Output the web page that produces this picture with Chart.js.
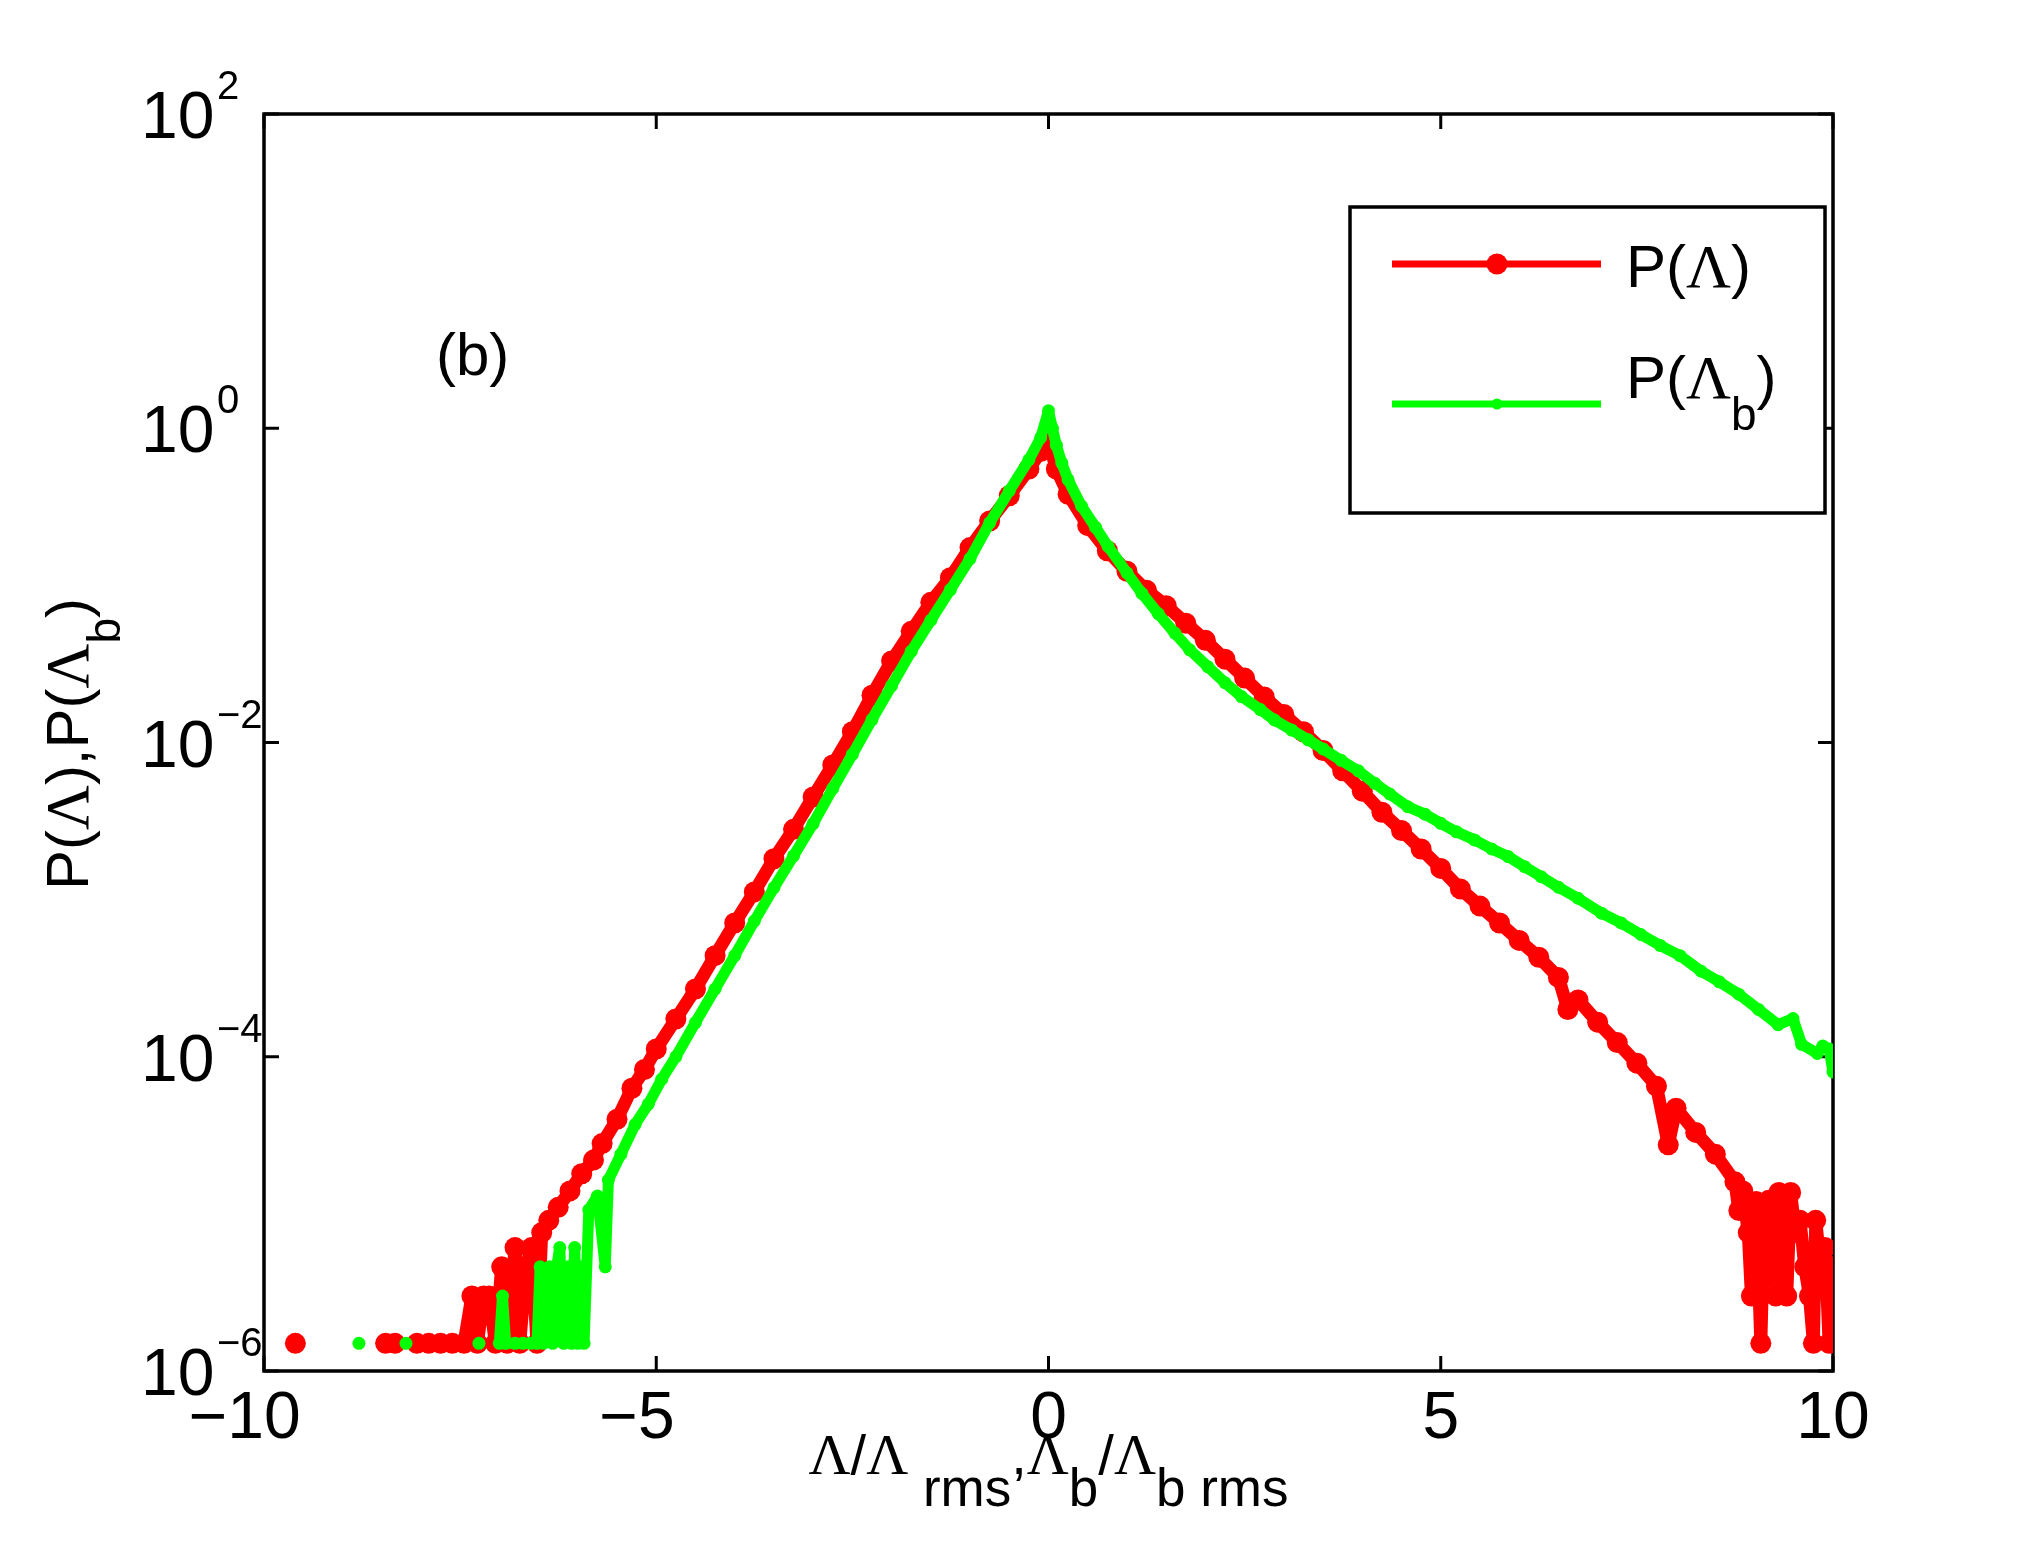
<!DOCTYPE html>
<html>
<head>
<meta charset="utf-8">
<script src="https://cdn.jsdelivr.net/npm/chart.js@4.4.1/dist/chart.umd.min.js"></script>
<style>
  html, body { margin: 0; padding: 0; background: #fff; }
</style>
</head>
<body>
<canvas id="pdfChart" width="2025" height="1542"></canvas>
<script>
// P(Lambda) - red series
const redX = [
  -9.6, -9.0, -8.45, -8.33, -8.2, -8.05, -7.9, -7.75, -7.6, -7.45,
  -7.35, -7.28, -7.2, -7.13, -7.05, -6.97, -6.9, -6.8, -6.74, -6.66,
  -6.59, -6.52, -6.46, -6.37, -6.25, -6.1, -5.95, -5.8, -5.69, -5.5,
  -5.31, -5.15, -5.0, -4.75, -4.5, -4.25, -4.0, -3.75, -3.5, -3.25,
  -3.0, -2.75, -2.5, -2.25, -2.0, -1.75, -1.5, -1.25, -1.0, -0.75,
  -0.5, -0.25, -0.1, 0.0, 0.1, 0.25, 0.5, 0.75, 1.0, 1.25,
  1.5, 1.75, 2.0, 2.25, 2.5, 2.75, 3.0, 3.25, 3.5, 3.75,
  4.0, 4.25, 4.5, 4.75, 5.0, 5.25, 5.5, 5.75, 6.0, 6.25,
  6.5, 6.62, 6.75, 7.0, 7.25, 7.5, 7.75, 7.9, 8.0, 8.25,
  8.5, 8.75, 8.8, 8.85, 8.92, 8.96, 9.02, 9.08, 9.12, 9.18,
  9.24, 9.27, 9.31, 9.36, 9.41, 9.46, 9.52, 9.58, 9.64, 9.7,
  9.75, 9.78, 9.84, 9.9, 9.95, 10.0
];
const redY = [
  1.5e-6, null, 1.5e-6, 1.5e-6, null, 1.5e-6, 1.5e-6, 1.5e-6, 1.5e-6, 1.5e-6,
  3.0e-6, 1.5e-6, 3.0e-6, 3.0e-6, 1.5e-6, 4.6e-6, 1.5e-6, 6.1e-6, 1.5e-6, 4.6e-6,
  6.1e-6, 1.5e-6, 7.6e-6, 9.1e-6, 1.1e-5, 1.4e-5, 1.8e-5, 2.2e-5, 2.8e-5, 4.0e-5,
  6.3e-5, 8.3e-5, 1.12e-4, 1.74e-4, 2.7e-4, 4.4e-4, 7.1e-4, 1.12e-3, 1.82e-3, 2.8e-3,
  4.5e-3, 7.2e-3, 1.17e-2, 2.0e-2, 3.3e-2, 5.1e-2, 7.8e-2, 0.112, 0.174, 0.257,
  0.372, 0.55, 0.71, 0.83, 0.55, 0.38, 0.24, 0.166, 0.123, 0.093,
  0.0743, 0.0575, 0.0447, 0.0339, 0.0257, 0.0195, 0.0151, 0.0117, 8.9e-3, 6.6e-3,
  4.9e-3, 3.6e-3, 2.75e-3, 2.1e-3, 1.58e-3, 1.17e-3, 9.1e-4, 7.1e-4, 5.5e-4, 4.3e-4,
  3.2e-4, 2.0e-4, 2.3e-4, 1.66e-4, 1.23e-4, 9.1e-5, 6.5e-5, 2.75e-5, 4.7e-5, 3.3e-5,
  2.4e-5, 1.6e-5, 1.05e-5, 1.4e-5, 7.6e-6, 3.0e-6, 1.2e-5, 1.5e-6, 9.1e-6, 1.22e-5,
  6.1e-6, 3.0e-6, 1.37e-5, 6.1e-6, 3.0e-6, 1.37e-5, 7.6e-6, 9.1e-6, 4.6e-6, 3.0e-6,
  1.5e-6, 9.1e-6, 4.6e-6, 6.1e-6, 1.5e-6, 4.6e-6
];

// P(Lambda_b) - green series
const greenX = [
  -8.79, -8.5, -8.19, -7.8, -7.26, -7.1, -7.0, -6.96, -6.92, -6.8,
  -6.7, -6.6, -6.52, -6.48, -6.44, -6.36, -6.32, -6.27, -6.23, -6.18,
  -6.12, -6.08, -6.04, -6.0, -5.95, -5.92, -5.86, -5.75, -5.65, -5.61,
  -5.45, -5.27, -5.1, -4.93, -4.75, -4.5, -4.25, -4.0, -3.75, -3.5,
  -3.25, -3.0, -2.75, -2.5, -2.25, -2.0, -1.75, -1.5, -1.25, -1.0,
  -0.75, -0.5, -0.25, -0.1, 0.0, 0.05, 0.1, 0.17, 0.25, 0.42,
  0.6, 0.76, 1.0, 1.19, 1.4, 1.61, 1.8, 2.03, 2.25, 2.46,
  2.7, 2.88, 3.1, 3.31, 3.5, 3.73, 3.95, 4.16, 4.35, 4.58,
  4.8, 5.0, 5.2, 5.43, 5.65, 5.86, 6.07, 6.28, 6.5, 6.75,
  7.05, 7.3, 7.55, 7.8, 8.05, 8.32, 8.55, 8.8, 9.05, 9.3,
  9.49, 9.6, 9.8, 9.87, 9.95, 10.0
];
const greenY = [
  1.5e-6, null, 1.5e-6, null, 1.5e-6, null, 1.5e-6, 3.0e-6, 1.5e-6, 1.5e-6,
  1.5e-6, 1.5e-6, 1.5e-6, 4.6e-6, 1.5e-6, 4.6e-6, 1.5e-6, 4.6e-6, 6.1e-6, 1.5e-6,
  4.6e-6, 1.5e-6, 6.1e-6, 1.5e-6, 4.6e-6, 1.5e-6, 1.06e-5, 1.3e-5, 4.6e-6, 1.64e-5,
  2.4e-5, 3.7e-5, 5.0e-5, 7.2e-5, 1.0e-4, 1.65e-4, 2.7e-4, 4.4e-4, 7.3e-4, 1.19e-3,
  1.9e-3, 3.05e-3, 5.1e-3, 8.4e-3, 1.4e-2, 2.3e-2, 3.8e-2, 6.0e-2, 0.094, 0.148,
  0.25, 0.40, 0.63, 0.87, 1.29, 1.0, 0.78, 0.60, 0.47, 0.32,
  0.234, 0.177, 0.120, 0.089, 0.066, 0.0497, 0.0389, 0.0304, 0.024, 0.0196,
  0.0162, 0.0139, 0.0120, 0.0104, 9.1e-3, 7.7e-3, 6.6e-3, 5.5e-3, 4.7e-3, 3.9e-3,
  3.5e-3, 3.06e-3, 2.7e-3, 2.4e-3, 2.1e-3, 1.88e-3, 1.62e-3, 1.4e-3, 1.2e-3, 1.02e-3,
  8.2e-4, 7.1e-4, 6.0e-4, 5.1e-4, 4.4e-4, 3.5e-4, 3.0e-4, 2.5e-4, 2.0e-4, 1.6e-4,
  1.75e-4, 1.2e-4, 1.05e-4, 1.17e-4, 1.12e-4, 8.0e-5
];

// axis ticks
const xTicks = [-10, -5, 0, 5, 10];
const yTicks = [1e-6, 1e-4, 1e-2, 1, 100];
const yTickExp = ['\u22126', '\u22124', '\u22122', '0', '2'];

const SANS = '"Liberation Sans", Arial, sans-serif';
const SERIF = '"Liberation Serif", "Times New Roman", serif';

function pts(xs, ys) {
  return xs.map((x, i) => ({ x: x, y: ys[i] }));
}

// draw a run of text pieces: [text, font, dy]
function drawRich(c, x, y, parts, align) {
  let total = 0;
  parts.forEach(p => { c.font = p[1]; total += c.measureText(p[0]).width; });
  let cx = align === 'center' ? x - total / 2 : x;
  parts.forEach(p => {
    c.font = p[1];
    c.fillText(p[0], cx, y + (p[2] || 0));
    cx += c.measureText(p[0]).width;
  });
}

const frame = {
  id: 'frame',
  beforeDatasetsDraw(chart) {
    const c = chart.ctx, a = chart.chartArea;
    const xs = chart.scales.x, ys = chart.scales.y;
    c.save();
    c.strokeStyle = '#000';
    c.lineWidth = 3.5;
    c.strokeRect(a.left, a.top, a.right - a.left, a.bottom - a.top);
    c.lineWidth = 3;
    c.beginPath();
    xTicks.forEach(v => {
      const px = xs.getPixelForValue(v);
      c.moveTo(px, a.bottom); c.lineTo(px, a.bottom - 15);
      c.moveTo(px, a.top); c.lineTo(px, a.top + 15);
    });
    yTicks.forEach(v => {
      const py = ys.getPixelForValue(v);
      c.moveTo(a.left, py); c.lineTo(a.left + 15, py);
      c.moveTo(a.right, py); c.lineTo(a.right - 15, py);
    });
    c.stroke();

    c.fillStyle = '#000';
    c.textBaseline = 'alphabetic';
    c.textAlign = 'left';
    // y tick labels 10^n
    yTicks.forEach((v, i) => {
      const py = ys.getPixelForValue(v);
      c.font = '66px ' + SANS;
      c.fillText('10', 141, py + 24);
      c.font = '40px ' + SANS;
      c.fillText(yTickExp[i], 217, py - 15);
    });
    // x tick labels: digits centred on the tick, minus hangs left
    c.font = '66px ' + SANS;
    xTicks.forEach(v => {
      const px = xs.getPixelForValue(v);
      const digits = String(Math.abs(v));
      const w = c.measureText(digits).width;
      c.fillText(digits, px - w / 2, 1438);
      if (v < 0) {
        const mw = c.measureText('\u2212').width;
        c.fillText('\u2212', px - w / 2 - mw, 1438);
      }
    });

    // axis titles
    const main = '56px ' + SANS, lam = '58px ' + SERIF, sub = '53px ' + SANS;
    drawRich(c, (a.left + a.right) / 2, 1474, [
      ['\u039B', lam], ['/', main], ['\u039B', lam], [' rms', sub, 32], [',', main],
      ['\u039B', lam], ['b', sub, 32], ['/', main], ['\u039B', lam], ['b rms', sub, 32]
    ], 'center');

    c.save();
    c.translate(88, 744);
    c.rotate(-Math.PI / 2);
    drawRich(c, 0, 0, [
      ['P(', '60px ' + SANS], ['\u039B', '62px ' + SERIF], ['),P(', '60px ' + SANS],
      ['\u039B', '62px ' + SERIF], ['b', '46px ' + SANS, 32], [')', '60px ' + SANS]
    ], 'center');
    c.restore();

    c.font = '60px ' + SANS;
    c.fillText('(b)', 436, 375);
    c.restore();
  },
  afterDatasetsDraw(chart) {
    const c = chart.ctx;
    const ds = chart.data.datasets;
    c.save();
    c.fillStyle = '#fff';
    c.fillRect(1350, 207, 475, 306);
    c.strokeStyle = '#000';
    c.lineWidth = 3.5;
    c.strokeRect(1350, 207, 475, 306);
    const rows = [
      { y: 264, d: ds[0], ty: 287, r: 10.5, parts: [['P(', '60px ' + SANS], ['\u039B', '62px ' + SERIF], [')', '60px ' + SANS]] },
      { y: 404, d: ds[1], ty: 398, r: 5.5, parts: [['P(', '60px ' + SANS], ['\u039B', '62px ' + SERIF], ['b', '46px ' + SANS, 32], [')', '60px ' + SANS]] }
    ];
    rows.forEach(r => {
      c.strokeStyle = r.d.borderColor;
      c.lineWidth = 7;
      c.beginPath();
      c.moveTo(1392, r.y); c.lineTo(1601, r.y);
      c.stroke();
      c.fillStyle = r.d.backgroundColor;
      c.beginPath();
      c.arc(1497, r.y, r.r, 0, Math.PI * 2);
      c.fill();
      c.fillStyle = '#000';
      drawRich(c, 1626, r.ty, r.parts, 'left');
    });
    c.restore();
  }
};

new Chart(document.getElementById('pdfChart').getContext('2d'), {
  type: 'scatter',
  data: {
    datasets: [{
      label: 'P(\u039B)',
      data: pts(redX, redY),
      showLine: true,
      spanGaps: false,
      borderColor: '#ff0000',
      backgroundColor: '#ff0000',
      borderWidth: 13,
      borderJoinStyle: 'round',
      borderCapStyle: 'round',
      pointRadius: 10.5,
      pointBorderWidth: 0,
      pointHoverRadius: 10.5,
      order: 1
    }, {
      label: 'P(\u039Bb)',
      data: pts(greenX, greenY),
      showLine: true,
      spanGaps: false,
      borderColor: '#00ff00',
      backgroundColor: '#00ff00',
      borderWidth: 11,
      borderJoinStyle: 'round',
      borderCapStyle: 'round',
      pointRadius: 6.5,
      pointBorderWidth: 0,
      pointHoverRadius: 6.5,
      order: 0
    }]
  },
  options: {
    responsive: false,
    animation: false,
    devicePixelRatio: 1,
    layout: { padding: { top: 114, right: 192, left: 0, bottom: 0 } },
    plugins: {
      legend: { display: false },
      tooltip: { enabled: false }
    },
    scales: {
      x: {
        type: 'linear', min: -10, max: 10,
        ticks: { display: false },
        grid: { display: false },
        border: { display: false },
        afterFit: s => { s.height = 171; }
      },
      y: {
        type: 'logarithmic', min: 1e-6, max: 100,
        ticks: { display: false },
        grid: { display: false },
        border: { display: false },
        afterFit: s => { s.width = 264; }
      }
    }
  },
  plugins: [frame]
});
</script>
</body>
</html>
